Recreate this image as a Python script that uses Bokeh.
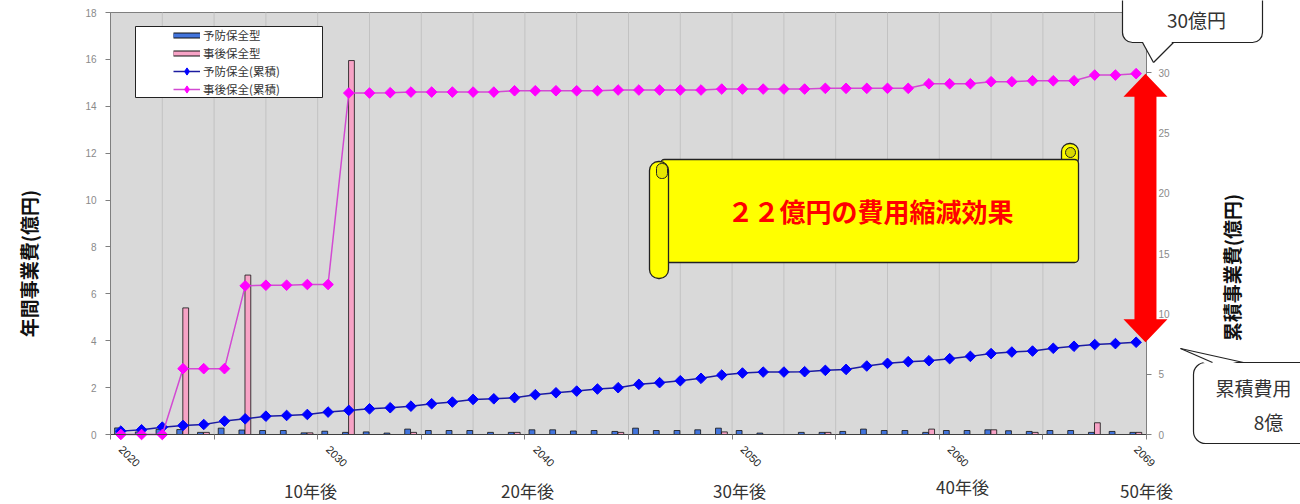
import math
from bokeh.plotting import figure
from bokeh.models import (Range1d, LinearAxis, FixedTicker, BoxAnnotation, PolyAnnotation,
                          Label, Legend, LegendItem, ColumnDataSource, Arrow)
from bokeh.transform import dodge
from bokeh.embed import file_html
from bokeh.resources import INLINE

# ---------------- data ----------------
years = list(range(2020, 2070))
preventive = [0.28, 0.11, 0.22, 0.21, 0.09, 0.27, 0.19, 0.17, 0.17, 0.07,
              0.14, 0.09, 0.11, 0.06, 0.23, 0.17, 0.17, 0.17, 0.09, 0.09,
              0.20, 0.20, 0.15, 0.17, 0.13, 0.27, 0.17, 0.17, 0.20, 0.27,
              0.17, 0.06, 0.00, 0.09, 0.09, 0.13, 0.23, 0.17, 0.17, 0.09,
              0.17, 0.17, 0.20, 0.16, 0.13, 0.17, 0.17, 0.09, 0.13, 0.09]
corrective = [0.00, 0.00, 0.00, 5.40, 0.09, 0.00, 6.80, 0.00, 0.00, 0.07,
              0.00, 15.95, 0.00, 0.00, 0.09, 0.00, 0.00, 0.00, 0.00, 0.09,
              0.00, 0.00, 0.00, 0.00, 0.09, 0.00, 0.00, 0.00, 0.00, 0.11,
              0.00, 0.00, 0.00, 0.00, 0.09, 0.00, 0.00, 0.00, 0.00, 0.23,
              0.00, 0.00, 0.20, 0.00, 0.09, 0.00, 0.00, 0.50, 0.00, 0.09]
preventive_cum = [0.28, 0.39, 0.61, 0.75, 0.83, 1.11, 1.30, 1.52, 1.58, 1.66,
                  1.86, 2.00, 2.13, 2.22, 2.35, 2.55, 2.69, 2.91, 2.96, 3.05,
                  3.30, 3.46, 3.60, 3.77, 3.88, 4.16, 4.30, 4.46, 4.66, 4.93,
                  5.10, 5.18, 5.18, 5.21, 5.32, 5.40, 5.68, 5.90, 6.04, 6.12,
                  6.29, 6.48, 6.71, 6.84, 6.92, 7.15, 7.32, 7.46, 7.54, 7.65]
corrective_cum = [0.00, 0.00, 0.00, 5.46, 5.46, 5.46, 12.33, 12.38, 12.38, 12.44,
                  12.44, 28.32, 28.32, 28.35, 28.40, 28.40, 28.40, 28.40, 28.40, 28.51,
                  28.51, 28.51, 28.51, 28.51, 28.57, 28.57, 28.57, 28.57, 28.57, 28.65,
                  28.65, 28.65, 28.65, 28.65, 28.71, 28.71, 28.71, 28.71, 28.71, 29.09,
                  29.09, 29.09, 29.26, 29.26, 29.34, 29.34, 29.34, 29.81, 29.81, 29.93]

x_tick_years = [2020, 2030, 2040, 2050, 2060, 2069]
left_ticks = [0, 2, 4, 6, 8, 10, 12, 14, 16, 18]
right_ticks = [0, 5, 10, 15, 20, 25, 30]
legend_labels = ["予防保全型", "事後保全型", "予防保全(累積)", "事後保全(累積)"]
left_title = "年間事業費(億円)"
right_title = "累積事業費(億円)"
period_labels = ["10年後", "20年後", "30年後", "40年後", "50年後"]
banner_text = "２２億円の費用縮減効果"
callout_top_text = "30億円"
callout_bottom_lines = ["累積費用", "8億"]

# ---------------- layout constants (pixels) ----------------
W, H = 1300, 504
FL, FR, FT, FB = 110, 1146, 12, 434          # plot-area box inside the canvas
X0, X1 = 2019.5, 2069.5                      # category extent of plot area
Y_MAX, Y2_MAX = 18, 35
PX_PER_X = (FR - FL) / (X1 - X0)
PX_PER_Y = (FB - FT) / Y_MAX

JP = "Noto Sans CJK JP"
BLUE_BAR = "#4274dc"
PINK_BAR = "#f7a3c6"
AXIS_GRAY = "#7f7f7f"


def dx(px):
    return X0 + (px - FL) / PX_PER_X


def dy(py):
    return (FB - py) / PX_PER_Y


def r2l(v):
    return v * Y_MAX / Y2_MAX


p = figure(width=W, height=H, x_range=Range1d(dx(0), dx(W)), y_range=Range1d(dy(H), dy(0)),
           output_backend="svg", toolbar_location=None, title=None,
           min_border=0, min_border_left=0, min_border_right=0, min_border_top=0,
           min_border_bottom=0, background_fill_color="white", border_fill_color="white",
           outline_line_color=None)
p.extra_y_ranges = {"cum": Range1d(dy(H) * Y2_MAX / Y_MAX, dy(0) * Y2_MAX / Y_MAX)}

# plot-area background
p.add_layout(BoxAnnotation(left=X0, right=X1, bottom=0, top=Y_MAX, level="underlay",
                           fill_color="#d9d9d9", fill_alpha=1, line_color=AXIS_GRAY,
                           line_width=1, line_alpha=1))
p.xgrid.visible = False
p.ygrid.visible = False

# axes (fixed at the plot-area edges)
xa = p.xaxis[0]
xa.fixed_location = 0
xa.bounds = (X0, X1)
xa.ticker = FixedTicker(ticks=x_tick_years, minor_ticks=[X0 + 5 * k for k in range(11)])
xa.major_label_overrides = {y: str(y) for y in x_tick_years}
xa.major_label_orientation = -math.pi / 4
xa.major_tick_line_color = None
xa.minor_tick_in = 0
xa.minor_tick_out = 5
xa.minor_tick_line_color = AXIS_GRAY
xa.axis_line_color = "#404040"
xa.major_label_text_font = "Liberation Sans"
xa.major_label_text_font_size = "11px"
xa.major_label_text_color = "#222222"
xa.major_label_standoff = 7

ya = p.yaxis[0]
ya.fixed_location = X0
ya.bounds = (0, Y_MAX)
ya.ticker = FixedTicker(ticks=left_ticks)
ya.major_tick_in = 0
ya.major_tick_out = 5
ya.minor_tick_line_color = None
ya.major_tick_line_color = AXIS_GRAY
ya.axis_line_color = AXIS_GRAY
ya.major_label_text_font = "Liberation Sans"
ya.major_label_text_font_size = "10px"
ya.major_label_text_color = "#8a8a8a"
ya.major_label_standoff = 9

ax2 = LinearAxis(y_range_name="cum", ticker=FixedTicker(ticks=right_ticks),
                 fixed_location=X1, bounds=(0, Y2_MAX),
                 major_tick_in=0, major_tick_out=5, minor_tick_line_color=None,
                 major_tick_line_color=AXIS_GRAY, axis_line_color=AXIS_GRAY,
                 major_label_text_font="Liberation Sans",
                 major_label_text_font_size="10px",
                 major_label_text_color="#8a8a8a", major_label_standoff=7)
p.add_layout(ax2, "right")

# vertical grid lines every 2.5 categories inside the plot area
grid_x = [X0 + 2.5 * k for k in range(1, 20)]
p.segment(x0=grid_x, y0=[0] * len(grid_x), x1=grid_x, y1=[Y_MAX] * len(grid_x),
          line_color="#c2c2c2", line_width=1)

# data
src = ColumnDataSource(dict(year=years, prev=preventive, corr=corrective,
                            prev_cum=preventive_cum, corr_cum=corrective_cum))

p.vbar(x=dodge("year", -0.16), top="prev", width=0.28, source=src,
       fill_color=BLUE_BAR, line_color="#111111", line_width=0.8)
p.vbar(x=dodge("year", 0.13), top="corr", width=0.28, source=src,
       fill_color=PINK_BAR, line_color="#111111", line_width=0.8)

l_prev = p.line("year", "prev_cum", y_range_name="cum", source=src,
                line_color="#1c1ca0", line_width=1.5)
s_prev = p.scatter("year", "prev_cum", y_range_name="cum", source=src,
                   marker="square", angle=math.pi / 4, size=7.5,
                   fill_color="#0000ff", line_color="#0000ff")
l_corr = p.line("year", "corr_cum", y_range_name="cum", source=src,
                line_color="#d24ad2", line_width=1.5)
s_corr = p.scatter("year", "corr_cum", y_range_name="cum", source=src,
                   marker="square", angle=math.pi / 4, size=7.5,
                   fill_color="#ff00ff", line_color="#ff00ff")

# legend swatch renderers (their points lie outside the visible range)
off = ColumnDataSource(dict(x=[dx(-200), dx(-190)], y=[dy(-200), dy(-200)]))
lb_o = p.line("x", "y", source=off, line_color="#111111", line_width=6)
lb_f = p.line("x", "y", source=off, line_color=BLUE_BAR, line_width=4)
lp_o = p.line("x", "y", source=off, line_color="#111111", line_width=6)
lp_f = p.line("x", "y", source=off, line_color=PINK_BAR, line_width=4)
dm_b = p.scatter("x", "y", source=off, marker="diamond", fill_color="#0000ff",
                 line_color="#0000ff")
dm_m = p.scatter("x", "y", source=off, marker="diamond", fill_color="#ff00ff",
                 line_color="#ff00ff")

p.add_layout(BoxAnnotation(left=dx(135), right=dx(322), top=dy(26), bottom=dy(97),
                           fill_color="white", fill_alpha=1,
                           line_color="#222222", line_width=1, line_alpha=1))
legend = Legend(items=[
    LegendItem(label=legend_labels[0], renderers=[lb_o, lb_f]),
    LegendItem(label=legend_labels[1], renderers=[lp_o, lp_f]),
    LegendItem(label=legend_labels[2], renderers=[l_prev, dm_b]),
    LegendItem(label=legend_labels[3], renderers=[l_corr, dm_m]),
], location=(173, H - 98), padding=0, margin=0, spacing=0,
    glyph_width=27, glyph_height=18, label_height=18, label_standoff=3,
    label_text_font=JP, label_text_font_size="11.5px", label_text_color="#333333",
    background_fill_alpha=0, border_line_color=None)
p.add_layout(legend, "center")

# banner (scroll)
p.add_layout(BoxAnnotation(left=dx(1061), right=dx(1078), top=dy(143), bottom=dy(166),
                           fill_color="#ffff00", fill_alpha=1, line_color="#222222",
                           line_width=1.3, line_alpha=1, border_radius=8))
p.add_layout(BoxAnnotation(left=dx(1065), right=dx(1075), top=dy(147), bottom=dy(157),
                           fill_color="#d8d800", fill_alpha=1, line_color="#222222",
                           line_width=1, line_alpha=1, border_radius=5))
p.add_layout(BoxAnnotation(left=dx(660), right=dx(1078), top=dy(159), bottom=dy(262),
                           fill_color="#ffff00", fill_alpha=1, line_color="#222222",
                           line_width=1.3, line_alpha=1, border_radius=4))
p.add_layout(BoxAnnotation(left=dx(649), right=dx(668), top=dy(161), bottom=dy(278),
                           fill_color="#ffff00", fill_alpha=1, line_color="#222222",
                           line_width=1.3, line_alpha=1, border_radius=9))
p.add_layout(BoxAnnotation(left=dx(656), right=dx(667), top=dy(163), bottom=dy(178),
                           fill_color="#e6e600", fill_alpha=1, line_color="#222222",
                           line_width=1, line_alpha=1, border_radius=5))
p.add_layout(Label(x=dx(870), y=dy(210), text=banner_text, text_align="center",
                   text_baseline="middle", text_font=JP, text_font_style="bold",
                   text_font_size="26px", text_color="#ff0000"))

# red double arrow between the two end values
ax_c = years[-1] + 0.45
y_top = r2l(corrective_cum[-1])
y_bot = r2l(preventive_cum[-1])
head_len = 23 / PX_PER_Y
head_hw = 22 / PX_PER_X
shaft_hw = 11 / PX_PER_X
p.add_layout(PolyAnnotation(
    xs=[ax_c, ax_c + head_hw, ax_c + shaft_hw, ax_c + shaft_hw, ax_c + head_hw, ax_c,
        ax_c - head_hw, ax_c - shaft_hw, ax_c - shaft_hw, ax_c - head_hw],
    ys=[y_top, y_top - head_len, y_top - head_len, y_bot + head_len, y_bot + head_len,
        y_bot, y_bot + head_len, y_bot + head_len, y_top - head_len, y_top - head_len],
    fill_color="#ff0000", fill_alpha=1, line_color=None))

# callout boxes
p.add_layout(BoxAnnotation(left=dx(1122), right=dx(1262), top=dy(-20), bottom=dy(42),
                           fill_color="white", fill_alpha=1, line_color="#222222",
                           line_width=1.2, line_alpha=1, border_radius=10))
p.add_layout(PolyAnnotation(xs=[dx(1141), dx(1174), dx(1153)],
                            ys=[dy(39), dy(39), dy(62)],
                            fill_color="white", fill_alpha=1, line_color=None))
p.add_layout(Arrow(end=None, x_start=dx(1142), y_start=dy(42), x_end=dx(1153), y_end=dy(62),
                   line_color="#222222", line_width=1.2))
p.add_layout(Arrow(end=None, x_start=dx(1153), y_start=dy(62), x_end=dx(1173), y_end=dy(42),
                   line_color="#222222", line_width=1.2))
p.add_layout(Label(x=dx(1196), y=dy(19), text=callout_top_text, text_align="center",
                   text_baseline="middle", text_font=JP, text_font_size="19px",
                   text_color="#333333"))

p.add_layout(BoxAnnotation(left=dx(1193), right=dx(1330), top=dy(362), bottom=dy(443),
                           fill_color="white", fill_alpha=1, line_color="#222222",
                           line_width=1.2, line_alpha=1, border_radius=12))
p.add_layout(PolyAnnotation(xs=[dx(1208), dx(1246), dx(1180)],
                            ys=[dy(365), dy(365), dy(348)],
                            fill_color="white", fill_alpha=1, line_color=None))
p.add_layout(Arrow(end=None, x_start=dx(1180), y_start=dy(348), x_end=dx(1212), y_end=dy(362),
                   line_color="#222222", line_width=1.2))
p.add_layout(Arrow(end=None, x_start=dx(1180), y_start=dy(348), x_end=dx(1243), y_end=dy(362),
                   line_color="#222222", line_width=1.2))
p.add_layout(Label(x=dx(1253), y=dy(387), text=callout_bottom_lines[0], text_align="center",
                   text_baseline="middle", text_font=JP, text_font_size="19px",
                   text_color="#333333"))
p.add_layout(Label(x=dx(1268), y=dy(421), text=callout_bottom_lines[1], text_align="center",
                   text_baseline="middle", text_font=JP, text_font_size="19px",
                   text_color="#333333"))

# axis titles
p.add_layout(Label(x=dx(28), y=dy(263), text=left_title, angle=math.pi / 2,
                   text_align="center", text_baseline="middle", text_font=JP,
                   text_font_style="bold", text_font_size="19px", text_color="#111111"))
p.add_layout(Label(x=dx(1231), y=dy(267), text=right_title, angle=math.pi / 2,
                   text_align="center", text_baseline="middle", text_font=JP,
                   text_font_style="bold", text_font_size="19px", text_color="#111111"))

# period labels below the axis
period_pos = [(310, 490), (527, 490), (739, 490), (962, 486), (1146, 490)]
for txt, (px, py) in zip(period_labels, period_pos):
    p.add_layout(Label(x=dx(px), y=dy(py), text=txt, text_align="center",
                       text_baseline="middle", text_font=JP, text_font_size="17px",
                       text_color="#333333"))

open("out.html", "w").write(file_html(p, INLINE))
